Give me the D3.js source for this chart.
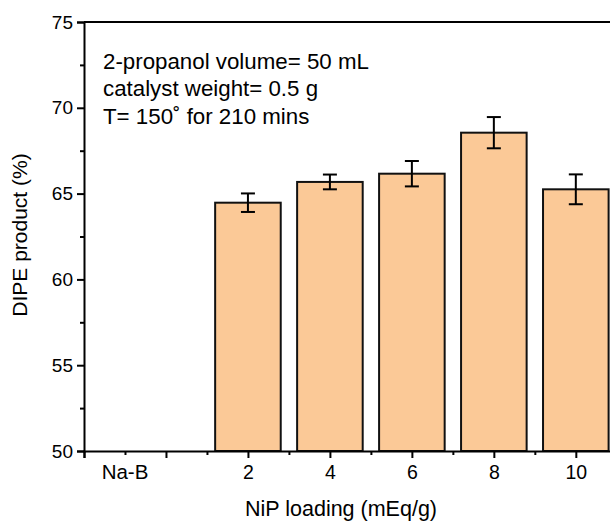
<!DOCTYPE html>
<html><head><meta charset="utf-8">
<script src="https://cdn.jsdelivr.net/npm/d3@7"></script>
<style>body{margin:0;background:#fff}svg{display:block}text{font-family:"Liberation Sans",Arial,sans-serif;fill:#000}</style>
</head><body><svg id="c" width="610" height="524"></svg>
<script>
const loadings = [2, 4, 6, 8, 10];
const dipe = [64.47, 65.68, 66.16, 68.55, 65.25];
const errs = [0.54, 0.43, 0.74, 0.91, 0.87];
const yTicks = [50, 55, 60, 65, 70, 75];
const xTickLabels = ["2", "4", "6", "8", "10"];
const refLabel = "Na-B";
const notes = ["2-propanol volume= 50 mL", "catalyst weight= 0.5 g", "T= 150˚ for 210 mins"];

const svg = d3.select("#c");
const x = d3.scaleLinear().domain([-2, 11.2]).range([84, 625]);
const y = d3.scaleLinear().domain([50, 75]).range([451, 22]);
const barW = x(1.6) - x(0);
const FONT = "Liberation Sans, Arial, sans-serif";

const g = svg.append("g");
g.selectAll("rect.bar").data(loadings).enter().append("rect")
  .attr("x", (d) => x(d) - barW / 2)
  .attr("y", (d, i) => y(dipe[i]))
  .attr("width", barW)
  .attr("height", (d, i) => y(50) - y(dipe[i]))
  .attr("fill", "#fbc997").attr("stroke", "#111").attr("stroke-width", 2);
const cap = 7;
loadings.forEach((d, i) => {
  const cx = x(d);
  g.append("line").attr("x1", cx).attr("x2", cx).attr("y1", y(dipe[i] + errs[i])).attr("y2", y(dipe[i] - errs[i])).attr("stroke", "#000").attr("stroke-width", 2);
  [dipe[i] + errs[i], dipe[i] - errs[i]].forEach(v => {
    g.append("line").attr("x1", cx - cap).attr("x2", cx + cap).attr("y1", y(v)).attr("y2", y(v)).attr("stroke", "#000").attr("stroke-width", 2);
  });
});

svg.append("line").attr("x1", 84).attr("x2", 625).attr("y1", y(75)).attr("y2", y(75)).attr("stroke", "#000").attr("stroke-width", 2);

// y axis
const yAx = svg.append("g").attr("transform", "translate(84,0)")
  .call(d3.axisLeft(y).tickValues(yTicks).tickSize(7).tickPadding(4).tickFormat(d3.format("d")));
yAx.selectAll(".tick line").attr("stroke-width", 2);
yAx.select(".domain").attr("stroke-width", 2);
yAx.selectAll("text").attr("font-size", 19).style("font-family", FONT);
svg.append("g").attr("transform", "translate(84,0)")
  .call(d3.axisLeft(y).tickValues(d3.range(52.5, 75, 5)).tickSize(4).tickFormat(""))
  .call(s => { s.select(".domain").remove(); s.selectAll("line").attr("stroke-width", 2); });

// x axis
const xAx = svg.append("g").attr("transform", `translate(0,${y(50)})`)
  .call(d3.axisBottom(x).tickValues([-2, 0].concat(loadings)).tickSize(7).tickPadding(10)
    .tickFormat(d => { const k = loadings.indexOf(d); return k >= 0 ? xTickLabels[k] : ""; }));
xAx.selectAll(".tick line").attr("stroke-width", 2);
xAx.select(".domain").attr("stroke-width", 2);
xAx.selectAll("text").attr("font-size", 19.5).attr("dy", null).attr("y", 28).style("font-family", FONT);
svg.append("g").attr("transform", `translate(0,${y(50)})`)
  .call(d3.axisBottom(x).tickValues(d3.range(-1, 11, 2)).tickSize(4).tickFormat(""))
  .call(s => { s.select(".domain").remove(); s.selectAll("line").attr("stroke-width", 2); });
svg.append("text").attr("x", x(-1)).attr("y", y(50) + 28).attr("text-anchor", "middle").attr("font-size", 20.5).text(refLabel);

// titles
svg.append("text").attr("x", 341).attr("y", 516).attr("text-anchor", "middle").attr("font-size", 21.5).text("NiP loading (mEq/g)");
svg.append("text").attr("transform", "translate(27,235) rotate(-90)").attr("text-anchor", "middle").attr("font-size", 21).text("DIPE product (%)");

// notes
notes.forEach((t, i) => {
  svg.append("text").attr("x", 103).attr("y", 68.5 + i * 27.5).attr("font-size", 22.3).text(t);
});
</script></body></html>
